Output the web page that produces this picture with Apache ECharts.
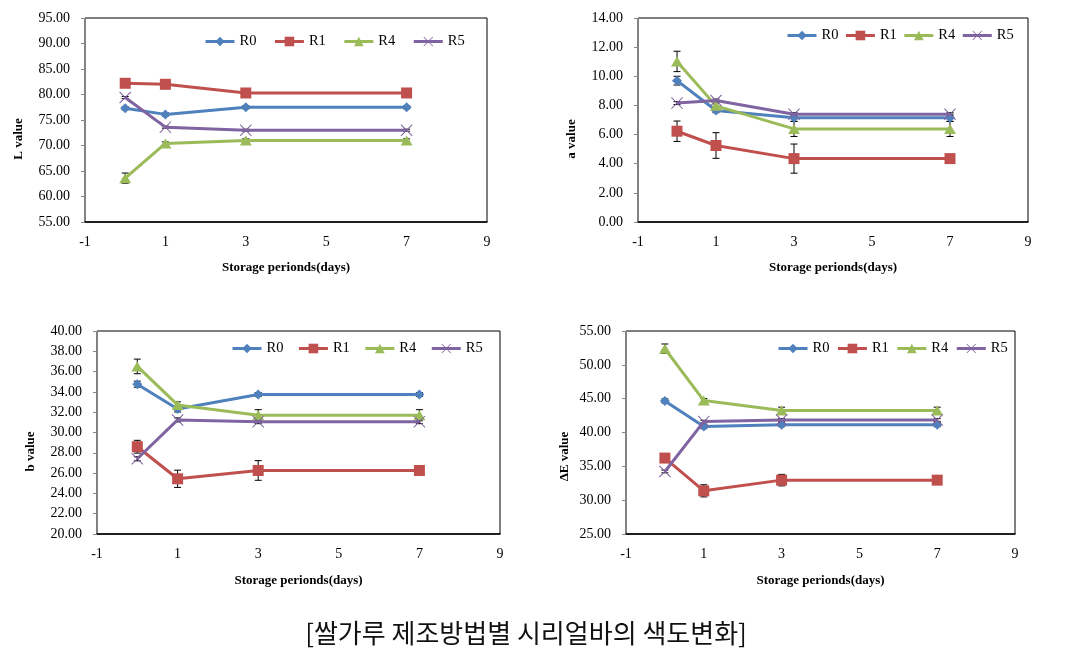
<!DOCTYPE html>
<html>
<head>
<meta charset="utf-8">
<script src="https://cdn.jsdelivr.net/npm/echarts@6/dist/echarts.min.js"></script>
<style>
html,body{margin:0;padding:0;background:#fff;}
#main{width:1070px;height:667px;}
</style>
</head>
<body>
<div id="main"></div>
<script>
// ---- data ----
const days = [0, 1, 3, 7];
const seriesNames = ['R0', 'R1', 'R4', 'R5'];
const xTicks = [-1, 1, 3, 5, 7, 9];

const L_R0 = [77.3, 76.1, 77.5, 77.5];
const L_R1 = [82.2, 82.0, 80.3, 80.3];
const L_R4 = [63.6, 70.4, 71.0, 71.0];
const L_R5 = [79.4, 73.6, 73.0, 73.0];
const L_R0_err = [0.3, 0.3, 0.3, 0.3];
const L_R1_err = [0.3, 0.3, 0.6, 0.3];
const L_R4_err = [1.0, 0.3, 0.3, 0.3];
const L_R5_err = [0.2, 0.2, 0.2, 0.2];

const a_R0 = [9.70, 7.65, 7.15, 7.15];
const a_R1 = [6.23, 5.25, 4.35, 4.35];
const a_R4 = [11.02, 7.97, 6.39, 6.39];
const a_R5 = [8.16, 8.34, 7.40, 7.40];
const a_R0_err = [0.30, 0.15, 0.25, 0.25];
const a_R1_err = [0.70, 0.88, 1.00, 0.20];
const a_R4_err = [0.70, 0.20, 0.52, 0.52];
const a_R5_err = [0.10, 0.10, 0.10, 0.10];

const b_R0 = [34.76, 32.32, 33.74, 33.74];
const b_R1 = [28.60, 25.44, 26.26, 26.26];
const b_R4 = [36.51, 32.72, 31.70, 31.70];
const b_R5 = [27.41, 31.24, 31.07, 31.07];
const b_R0_err = [0.30, 0.30, 0.20, 0.20];
const b_R1_err = [0.63, 0.85, 0.97, 0.20];
const b_R4_err = [0.72, 0.30, 0.55, 0.55];
const b_R5_err = [0.20, 0.20, 0.20, 0.20];

const E_R0 = [44.67, 40.87, 41.16, 41.16];
const E_R1 = [36.22, 31.38, 32.96, 32.96];
const E_R4 = [52.38, 44.72, 43.24, 43.24];
const E_R5 = [34.24, 41.61, 41.85, 41.85];
const E_R0_err = [0.30, 0.30, 0.30, 0.30];
const E_R1_err = [0.60, 0.90, 0.85, 0.30];
const E_R4_err = [0.70, 0.30, 0.50, 0.50];
const E_R5_err = [0.20, 0.20, 0.20, 0.20];

const yTitles = ['L value', 'a value', 'b value', '\u0394E value'];
const xTitle = 'Storage perionds(days)';
const caption = '[쌀가루 제조방법별 시리얼바의 색도변화]';

// ---- panels ----
const panels = [
  {vals: [L_R0, L_R1, L_R4, L_R5], errs: [L_R0_err, L_R1_err, L_R4_err, L_R5_err], min: 55, max: 95, interval: 5},
  {vals: [a_R0, a_R1, a_R4, a_R5], errs: [a_R0_err, a_R1_err, a_R4_err, a_R5_err], min: 0, max: 14, interval: 2},
  {vals: [b_R0, b_R1, b_R4, b_R5], errs: [b_R0_err, b_R1_err, b_R4_err, b_R5_err], min: 20, max: 40, interval: 2},
  {vals: [E_R0, E_R1, E_R4, E_R5], errs: [E_R0_err, E_R1_err, E_R4_err, E_R5_err], min: 25, max: 55, interval: 5}
];

const grids = [
  {left: 85, top: 18, width: 402, height: 204},
  {left: 638, top: 18, width: 390, height: 204},
  {left: 97, top: 331, width: 403, height: 203},
  {left: 626, top: 331, width: 389, height: 203}
];
const legendPos = [
  {left: 204, top: 34, itemGap: 17},
  {left: 786, top: 28, itemGap: 6},
  {left: 231, top: 341, itemGap: 14},
  {left: 777, top: 341, itemGap: 7}
];
const yNameGap = [60, 60, 60, 55];
const xNameGap = [39, 39, 40, 40];

const colors = ['#4F81BD', '#C0504D', '#9BBB59', '#8064A2'];
const xPath = 'path://M0,0.6 L0.6,0 L5,4.4 L9.4,0 L10,0.6 L5.6,5 L10,9.4 L9.4,10 L5,5.6 L0.6,10 L0,9.4 L4.4,5 Z';
const symbols = ['diamond', 'rect', 'triangle', xPath];
const symbolSizes = [[10, 10], [11, 11], [12, 10], [12, 12]];
const serif = '"Liberation Serif", "Times New Roman", serif';

const option = {
  animation: false,
  backgroundColor: '#fff',
  grid: grids.map(g => Object.assign({show: true, borderColor: '#000', borderWidth: 1, backgroundColor: 'transparent'}, g)),
  legend: legendPos.map((p, i) => ({
    left: p.left, top: p.top, itemGap: p.itemGap, padding: 0,
    itemWidth: 29, itemHeight: 12,
    data: seriesNames,
    lineStyle: {width: 3},
    textStyle: {fontFamily: serif, fontSize: 14.5, color: '#000'},
    selectedMode: false
  })),
  xAxis: grids.map((g, i) => ({
    type: 'value', gridIndex: i, min: -1, max: 9, interval: 2,
    axisLine: {show: true, onZero: false, lineStyle: {color: '#000', width: 1.5}},
    axisTick: {show: false},
    splitLine: {show: false},
    axisLabel: {fontFamily: serif, fontSize: 14, color: '#000', margin: 13},
    name: xTitle, nameLocation: 'middle', nameGap: xNameGap[i],
    nameTextStyle: {fontFamily: serif, fontSize: 13, fontWeight: 'bold', color: '#000'}
  })),
  yAxis: panels.map((p, i) => ({
    type: 'value', gridIndex: i, min: p.min, max: p.max, interval: p.interval,
    axisLine: {show: true, onZero: false, lineStyle: {color: '#868686', width: 1}},
    axisTick: {show: true, inside: false, length: 4, lineStyle: {color: '#868686'}},
    splitLine: {show: false},
    axisLabel: {fontFamily: serif, fontSize: 14, color: '#000', margin: 15,
      formatter: v => v.toFixed(2)},
    name: yTitles[i], nameLocation: 'middle', nameGap: yNameGap[i],
    nameRotate: 90,
    nameTextStyle: {fontFamily: serif, fontSize: 13, fontWeight: 'bold', color: '#000',
      padding: [0, i === 3 ? 48 : 38, 0, 0]}
  })),
  series: [],
  graphic: [{
    type: 'text', x: 526, y: 633,
    style: {text: caption, fontFamily: '"Noto Sans CJK KR", sans-serif', fontSize: 26, fill: '#111',
      textAlign: 'center', textVerticalAlign: 'middle'}
  }]
};

panels.forEach((p, pi) => {
  // error bars
  const errData = [];
  p.vals.forEach((vals, si) => {
    vals.forEach((v, di) => {
      errData.push([days[di], v - p.errs[si][di], v + p.errs[si][di]]);
    });
  });
  option.series.push({
    type: 'custom', xAxisIndex: pi, yAxisIndex: pi, z: 1, silent: true,
    data: errData,
    renderItem: (params, api) => {
      const lo = api.coord([api.value(0), api.value(1)]);
      const hi = api.coord([api.value(0), api.value(2)]);
      const hw = 3.5;
      return {
        type: 'group',
        children: [
          {type: 'line', shape: {x1: lo[0], y1: lo[1], x2: hi[0], y2: hi[1]}, style: {stroke: '#000', lineWidth: 1}},
          {type: 'line', shape: {x1: lo[0] - hw, y1: lo[1], x2: lo[0] + hw, y2: lo[1]}, style: {stroke: '#000', lineWidth: 1}},
          {type: 'line', shape: {x1: hi[0] - hw, y1: hi[1], x2: hi[0] + hw, y2: hi[1]}, style: {stroke: '#000', lineWidth: 1}}
        ]
      };
    }
  });
  p.vals.forEach((vals, si) => {
    option.series.push({
      name: seriesNames[si], type: 'line', xAxisIndex: pi, yAxisIndex: pi, z: 2 + si,
      data: vals.map((v, di) => [days[di], v]),
      symbol: symbols[si], symbolSize: symbolSizes[si], showSymbol: true,
      color: colors[si],
      lineStyle: {color: colors[si], width: 3},
      itemStyle: {color: colors[si]}
    });
  });
});

const chart = echarts.init(document.getElementById('main'), null, {renderer: 'canvas'});
chart.setOption(option);
</script>
</body>
</html>
